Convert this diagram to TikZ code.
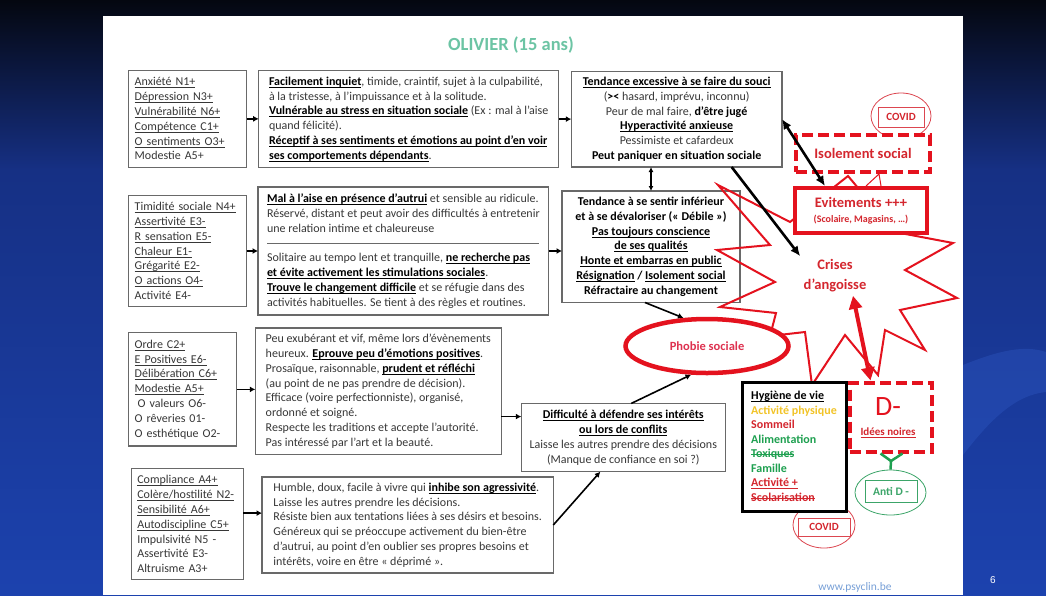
\documentclass[tikz,border=0pt]{standalone}
\usepackage{fontspec}
\setmainfont{Carlito}
\newfontfamily\arialfont{Liberation Sans}
\usetikzlibrary{arrows.meta,shapes.geometric}

\definecolor{boxgray}{RGB}{105,105,105}
\definecolor{txt}{RGB}{55,55,55}
\definecolor{shred}{RGB}{228,18,30}
\definecolor{txred}{RGB}{212,38,46}
\definecolor{pinkred}{RGB}{222,50,80}
\definecolor{titlegreen}{RGB}{108,196,164}
\definecolor{hgreen}{RGB}{30,160,80}
\definecolor{antigreen}{RGB}{60,165,105}
\definecolor{hyellow}{RGB}{242,196,40}
\definecolor{covidred}{RGB}{220,70,80}
\definecolor{linkblue}{RGB}{120,160,215}
\definecolor{navytop}{RGB}{4,7,16}
\definecolor{navymid}{RGB}{22,48,132}
\definecolor{navybot}{RGB}{28,66,174}
\definecolor{navylight}{RGB}{48,92,200}

% underlined, struck, bold-underlined and bold fragments
\newsavebox{\ulbox}
\newcommand{\ulu}[1]{\leavevmode\sbox{\ulbox}{#1}\rlap{\rule[-2.2pt]{\wd\ulbox}{0.7pt}}\usebox{\ulbox}}
\newcommand{\strk}[1]{\leavevmode\sbox{\ulbox}{#1}\rlap{\rule[2.8pt]{\wd\ulbox}{0.8pt}}\usebox{\ulbox}}
\newcommand{\bul}[1]{\textbf{\color{black}\ulu{#1}}}
\newcommand{\bld}[1]{\textbf{\color{black}#1}}

\begin{document}
\begin{tikzpicture}[x=1pt,y=-1pt,
  box/.style={draw=boxgray, line width=1.1pt, fill=white, inner xsep=3pt, inner ysep=2pt,
    outer sep=0pt, anchor=north west, text=txt, font=\fontsize{12}{14.8}\selectfont},
  lbox/.style={box, align=left},
  wbox/.style={box, align=left, inner xsep=6pt},
  cbox/.style={box, align=center},
  arr/.style={line width=1.6pt, -{Latex[length=5.5pt,width=6pt]}},
  darr/.style={line width=1.3pt, {Latex[length=5pt,width=5pt]}-{Latex[length=5pt,width=5pt]}},
  bigarr/.style={line width=2.6pt, -{Latex[length=10pt,width=9pt]}},
  bigdarr/.style={line width=2.6pt, {Latex[length=10pt,width=9pt]}-{Latex[length=10pt,width=9pt]}},
  redarr/.style={draw=shred, line width=4pt, {Triangle[length=13pt,width=13pt]}-{Triangle[length=13pt,width=13pt]}},
  dashbox/.style={draw=shred, line width=4pt, dash pattern=on 11pt off 5pt, fill=white,
    anchor=north west, inner sep=0pt},
  thinoval/.style={ellipse, line width=0.8pt, inner sep=0pt},
  tag/.style={line width=0.6pt, inner sep=0pt, font=\fontsize{11}{13}\selectfont\bfseries}
]
\useasboundingbox (0,0) rectangle (1046,595);

% slide background
\shade[top color=navytop, bottom color=navymid] (0,0) rectangle (1046,170);
\shade[top color=navymid, bottom color=navybot] (0,169.5) rectangle (1046,595);
\fill[navylight, opacity=0.35] (963,365) .. controls (1000,350) and (1025,345) .. (1046,352)
  -- (1046,392) .. controls (1015,395) and (990,420) .. (963,455) -- cycle;
\fill[white] (103,16) rectangle (963,595);

% title
\node[font=\fontsize{18.5}{20}\selectfont\bfseries, text=titlegreen] (title) at (511,45) {OLIVIER (15 ans)};

% row 1
\node[wbox, text width=106pt, minimum height=96.5pt] (a1) at (128.7,70.6)
  {\ulu{Anxiété N1+}\\ \ulu{Dépression N3+}\\ \ulu{Vulnérabilité N6+}\\ \ulu{Compétence C1+}\\ \ulu{O sentiments O3+}\\ Modestie A5+};
\node[lbox, minimum width=300pt, minimum height=97pt] (a2) at (258.7,70.6)
  {\bul{Facilement inquiet}, timide, craintif, sujet à la culpabilité,\\
   à la tristesse, à l’impuissance et à la solitude.\\
   \bul{Vulnérable au stress en situation sociale} (Ex : mal à l’aise\\
   quand félicité).\\
   \bul{Réceptif à ses sentiments et émotions au point d’en voir}\\
   \bul{ses comportements dépendants}.};
\node[cbox, minimum width=210.7pt, minimum height=95.7pt] (a3) at (571.3,71.3)
  {\bul{Tendance excessive à se faire du souci}\\
   (\bld{><} hasard, imprévu, inconnu)\\
   Peur de mal faire, \bld{d’être jugé}\\
   \bul{Hyperactivité anxieuse}\\
   Pessimiste et cafardeux\\
   \bld{Peut paniquer en situation sociale}};

% row 2
\node[wbox, text width=106pt, minimum height=111.2pt] (b1) at (128.7,195.4)
  {\ulu{Timidité sociale N4+}\\ \ulu{Assertivité E3-}\\ \ulu{R sensation E5-}\\ \ulu{Chaleur E1-}\\ \ulu{Grégarité E2-}\\ \ulu{O actions O4-}\\ Activité E4-};
\node[lbox, minimum width=290.7pt, minimum height=128pt] (b2) at (258,187)
  {\bul{Mal à l’aise en présence d’autrui} et sensible au ridicule.\\
   Réservé, distant et peut avoir des difficultés à entretenir\\
   une relation intime et chaleureuse\\
   \textcolor{boxgray}{\rule[3.5pt]{272pt}{0.8pt}}\\
   Solitaire au tempo lent et tranquille, \bul{ne recherche pas}\\
   \bul{et évite activement les stimulations sociales}.\\
   \bul{Trouve le changement difficile} et se réfugie dans des\\
   activités habituelles. Se tient à des règles et routines.};
\node[cbox, text=black, font=\fontsize{12}{14.8}\selectfont\bfseries, minimum width=178pt, minimum height=111.5pt] (b3) at (562,191)
  {Tendance à se sentir inférieur\\
   et à se dévaloriser (« Débile »)\\
   \ulu{Pas toujours conscience}\\
   \ulu{de ses qualités}\\
   \ulu{Honte et embarras en public}\\
   \ulu{Résignation} / \ulu{Isolement social}\\
   Réfractaire au changement};

% row 3
\node[wbox, text width=96pt, minimum height=113.2pt] (c1) at (128.7,332.8)
  {\ulu{Ordre C2+}\\ \ulu{E Positives E6-}\\ \ulu{Délibération C6+}\\ \ulu{Modestie A5+}\\ \hspace*{3pt}O valeurs O6-\\ O rêveries 01-\\ O esthétique O2-};
\node[lbox, minimum width=246pt, minimum height=126.6pt] (c2) at (255.3,328)
  {Peu exubérant et vif, même lors d’évènements\\
   heureux. \bul{Eprouve peu d’émotions positives}.\\
   Prosaïque, raisonnable, \bul{prudent et réfléchi}\\
   (au point de ne pas prendre de décision).\\
   Efficace (voire perfectionniste), organisé,\\
   ordonné et soigné.\\
   Respecte les traditions et accepte l’autorité.\\
   Pas intéressé par l’art et la beauté.};
\node[cbox, minimum width=204pt, minimum height=68.3pt] (c3) at (521.3,403.4)
  {\bul{Difficulté à défendre ses intérêts}\\
   \bul{ou lors de conflits}\\
   Laisse les autres prendre des décisions\\
   (Manque de confiance en soi ?)};

% row 4
\node[wbox, text width=100pt, minimum height=110.8pt] (d1) at (131.3,468.7)
  {\ulu{Compliance A4+}\\ \ulu{Colère/hostilité N2-}\\ \ulu{Sensibilité A6+}\\ \ulu{Autodiscipline C5+}\\ Impulsivité N5 -\\ Assertivité E3-\\ Altruisme A3+};
\node[lbox, minimum width=291.3pt, minimum height=96pt] (d2) at (262,477)
  {Humble, doux, facile à vivre qui \bul{inhibe son agressivité}.\\
   Laisse les autres prendre les décisions.\\
   Résiste bien aux tentations liées à ses désirs et besoins.\\
   Généreux qui se préoccupe activement du bien-être\\
   d’autrui, au point d’en oublier ses propres besoins et\\
   intérêts, voire en être « déprimé ».};

% arrows between the boxes
\draw[arr] (a1.east) -- (a1.east -| a2.west);
\draw[arr] (a2.east) -- (a2.east -| a3.west);
\draw[arr] (b1.east) -- (b1.east -| b2.west);
\draw[arr] (b2.east) -- (b2.east -| b3.west);
\draw[arr] (c1.east) -- (c1.east -| c2.west);
\path ([yshift=21pt]c3.west) coordinate (c3in);
\draw[arr] (c2.east |- c3in) -- (c3in);
\draw[arr] ([yshift=11pt]d1.east) -- ([yshift=11pt]d1.east -| d2.west);
\draw[darr] (b3.north) -- (b3.north |- a3.south);

% anxiety burst
\draw[shred, line width=2pt, line join=miter]
  (848,176) -- (895,232) -- (953,243) -- (905,270) -- (957,298) -- (900,310)
  -- (925,350) -- (885,330) -- (878,375) -- (845,335) -- (812,385) -- (805,332)
  -- (770,336) -- (776,313) -- (720,307) -- (775,282) -- (717,250) -- (770,245)
  -- (718,185) -- (790,222) -- cycle;

% covid tags and red blocks
\node[thinoval, draw=covidred, minimum width=60pt, minimum height=46pt] (covidA) at (901,116) {};
\node[tag, draw=covidred, text=txred, minimum width=46pt, minimum height=20pt] (covidAt) at (901,117) {COVID};
\node[dashbox, minimum width=134pt, minimum height=37pt, text=txred,
  font=\fontsize{14.5}{16}\selectfont\bfseries] (isol) at (794,133) {Isolement social};
\node[draw=shred, line width=4pt, fill=white, anchor=north west, inner sep=0pt,
  minimum width=132pt, minimum height=45pt, align=center, text=txred,
  font=\fontsize{10}{15}\selectfont\bfseries] (evit) at (793,186)
  {{\fontsize{14.5}{15}\selectfont Evitements +++}\\ (Scolaire, Magasins, …)};
\draw[shred, line width=1pt] ([xshift=5pt]evit.north) -- ([xshift=16pt]isol.south) -- ([xshift=20pt]evit.north);

\node[thinoval, draw=covidred, minimum width=62pt, minimum height=46pt] (covidB) at (824,525) {};
\node[tag, draw=covidred, text=txred, minimum width=52pt, minimum height=18pt] (covidBt) at (824,527) {COVID};

\node[draw=black, line width=3pt, fill=white, anchor=north west, minimum width=104pt,
  minimum height=129pt, inner sep=2pt, align=left,
  font=\fontsize{12}{14.5}\selectfont\bfseries] (hyg) at (740.5,380.5)
  {\ulu{Hygiène de vie}\\
   \textcolor{hyellow}{Activité physique}\\
   \textcolor{txred}{Sommeil}\\
   \textcolor{hgreen}{Alimentation}\\
   \textcolor{hgreen}{\strk{Toxiques}}\\
   \textcolor{hgreen}{Famille}\\
   \textcolor{txred}{\ulu{Activité +}}\\
   \textcolor{txred}{\strk{Scolarisation}}};

\node[dashbox, minimum width=82pt, minimum height=69pt] (dm) at (847.5,380.5) {};
\node[font=\fontsize{28}{30}\selectfont, text=shred] (dmt) at (888,407) {D-};
\node[font=\fontsize{11}{13}\selectfont\bfseries, text=txred] (dmi) at (888,433) {\ulu{Idées noires}};

\node[ellipse, draw=shred, line width=4.5pt, fill=white, minimum width=163pt, minimum height=54pt,
  inner sep=0pt, text=pinkred, font=\fontsize{12.5}{14}\selectfont\bfseries] (phobie) at (707,346) {Phobie sociale};

\node[thinoval, draw=antigreen, minimum width=71pt, minimum height=45pt] (antid) at (890.5,492.5) {};
\node[tag, draw=antigreen, text=antigreen, minimum width=52pt, minimum height=22pt,
  font=\fontsize{11.5}{13}\selectfont\bfseries] (antidt) at (891,491.5) {Anti D -};

\node[font=\fontsize{14.5}{20}\selectfont\bfseries, text=txred, align=center] (crises) at (835,276) {Crises\\d’angoisse};

% links to the red blocks
\draw[arr] ([xshift=-6pt]b3.south) -- (phobie.130);
\draw[arr] ([xshift=8pt]c3.north) -- (phobie.241);
\draw[arr] (d2.east) -- ([xshift=-23pt]c3.south);
\draw[bigarr] ([xshift=55pt]a3.south) -- (crises.north west);
\draw[bigdarr] (a3.east) -- ([xshift=-36pt]evit.north);
\draw[redarr] ([xshift=18pt]crises.south) -- ([xshift=-20pt]dm.north);
\coordinate (yj) at (891,461);
\draw[hgreen, line width=2.5pt] ([xshift=-10pt]dm.south) -- (yj) -- ([xshift=12pt]dm.south);
\draw[hgreen, line width=2.5pt] (yj) -- (antid.north);

% footer
\node[text=linkblue, font=\fontsize{11.5}{13}\selectfont] (url) at (855,587) {www.psyclin.be};
\node[text=white, font=\fontsize{10}{12}\selectfont\arialfont] (pnum) at (993,580) {6};
\end{tikzpicture}
\end{document}
